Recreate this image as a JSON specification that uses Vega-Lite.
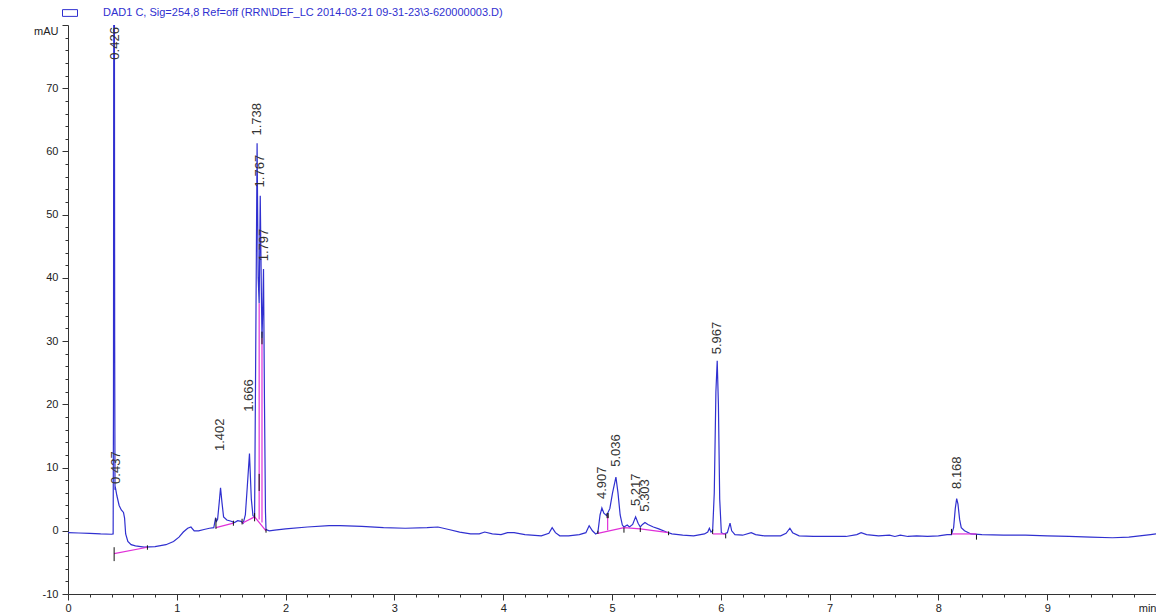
{
  "$schema": "https://vega.github.io/schema/vega-lite/v6.json",
  "width": 1088,
  "height": 569,
  "autosize": "none",
  "padding": {"left": 68, "top": 25, "right": 0, "bottom": 20},
  "background": "white",
  "config": {
    "view": {"stroke": null},
    "font": "Liberation Sans",
    "axis": {"labelFont": "Liberation Sans", "labelFontSize": 11, "labelColor": "#222", "domainColor": "#333", "tickColor": "#333", "grid": false, "title": null, "labelOverlap": false}
  },
  "datasets": {
    "trace": [
      {"t": 0.0, "v": -0.3}, {"t": 0.1, "v": -0.35}, {"t": 0.2, "v": -0.4}, {"t": 0.3, "v": -0.5}, {"t": 0.4, "v": -0.55},
      {"t": 0.415, "v": -0.5}, {"t": 0.418, "v": 20}, {"t": 0.421, "v": 95}, {"t": 0.426, "v": 95}, {"t": 0.429, "v": 30},
      {"t": 0.432, "v": 6.5}, {"t": 0.437, "v": 6.7}, {"t": 0.45, "v": 5.5}, {"t": 0.47, "v": 4}, {"t": 0.49, "v": 3.3},
      {"t": 0.51, "v": 2.9}, {"t": 0.52, "v": 2.0}, {"t": 0.53, "v": -0.5}, {"t": 0.55, "v": -1.7}, {"t": 0.58, "v": -2.2},
      {"t": 0.62, "v": -2.4}, {"t": 0.7, "v": -2.6}, {"t": 0.8, "v": -2.5}, {"t": 0.9, "v": -2.2}, {"t": 0.97, "v": -1.7},
      {"t": 1.02, "v": -1.0}, {"t": 1.06, "v": -0.2}, {"t": 1.1, "v": 0.4}, {"t": 1.13, "v": 0.6}, {"t": 1.16, "v": 0.0},
      {"t": 1.2, "v": 0.0}, {"t": 1.25, "v": 0.2}, {"t": 1.3, "v": 0.4}, {"t": 1.34, "v": 0.5}, {"t": 1.355, "v": 1.9},
      {"t": 1.365, "v": 1.5}, {"t": 1.375, "v": 1.8}, {"t": 1.39, "v": 4.5}, {"t": 1.402, "v": 6.8}, {"t": 1.415, "v": 4.5},
      {"t": 1.43, "v": 2.2}, {"t": 1.46, "v": 1.7}, {"t": 1.5, "v": 1.5}, {"t": 1.53, "v": 1.3}, {"t": 1.56, "v": 1.6},
      {"t": 1.59, "v": 1.5}, {"t": 1.61, "v": 1.2}, {"t": 1.63, "v": 2.5}, {"t": 1.648, "v": 7}, {"t": 1.668, "v": 12.2},
      {"t": 1.685, "v": 5}, {"t": 1.7, "v": 2.4}, {"t": 1.715, "v": 2.2}, {"t": 1.728, "v": 35}, {"t": 1.738, "v": 61.3},
      {"t": 1.748, "v": 40}, {"t": 1.757, "v": 36}, {"t": 1.767, "v": 53}, {"t": 1.777, "v": 38}, {"t": 1.783, "v": 30.5},
      {"t": 1.79, "v": 35}, {"t": 1.797, "v": 41.4}, {"t": 1.806, "v": 20}, {"t": 1.815, "v": 3}, {"t": 1.82, "v": 0.2},
      {"t": 1.85, "v": 0.0}, {"t": 1.9, "v": 0.1}, {"t": 2.0, "v": 0.3}, {"t": 2.2, "v": 0.6}, {"t": 2.4, "v": 0.8},
      {"t": 2.5, "v": 0.8}, {"t": 2.7, "v": 0.7}, {"t": 2.9, "v": 0.5}, {"t": 3.1, "v": 0.4}, {"t": 3.3, "v": 0.5},
      {"t": 3.4, "v": 0.6}, {"t": 3.5, "v": 0.2}, {"t": 3.6, "v": -0.2}, {"t": 3.7, "v": -0.5}, {"t": 3.78, "v": -0.5},
      {"t": 3.83, "v": -0.2}, {"t": 3.9, "v": -0.5}, {"t": 3.98, "v": -0.6}, {"t": 4.04, "v": -0.3}, {"t": 4.1, "v": -0.3},
      {"t": 4.2, "v": -0.6}, {"t": 4.35, "v": -0.8}, {"t": 4.42, "v": -0.4}, {"t": 4.45, "v": 0.5}, {"t": 4.48, "v": -0.3},
      {"t": 4.52, "v": -0.8}, {"t": 4.6, "v": -0.8}, {"t": 4.7, "v": -0.6}, {"t": 4.76, "v": -0.3}, {"t": 4.79, "v": 0.8},
      {"t": 4.82, "v": 0.0}, {"t": 4.85, "v": -0.5}, {"t": 4.87, "v": -0.3}, {"t": 4.89, "v": 2.5}, {"t": 4.907, "v": 3.6},
      {"t": 4.925, "v": 2.8}, {"t": 4.95, "v": 2.4}, {"t": 4.98, "v": 3.5}, {"t": 5.005, "v": 6}, {"t": 5.036, "v": 8.5},
      {"t": 5.055, "v": 6}, {"t": 5.075, "v": 2.5}, {"t": 5.095, "v": 0.9}, {"t": 5.11, "v": 0.6}, {"t": 5.14, "v": 0.9},
      {"t": 5.16, "v": 0.6}, {"t": 5.19, "v": 1.0}, {"t": 5.217, "v": 2.2}, {"t": 5.24, "v": 1.2}, {"t": 5.26, "v": 0.6},
      {"t": 5.28, "v": 1.0}, {"t": 5.303, "v": 1.3}, {"t": 5.33, "v": 1.0}, {"t": 5.38, "v": 0.6}, {"t": 5.43, "v": 0.3},
      {"t": 5.5, "v": -0.2}, {"t": 5.55, "v": -0.5}, {"t": 5.65, "v": -0.7}, {"t": 5.75, "v": -0.8}, {"t": 5.85, "v": -0.5},
      {"t": 5.88, "v": -0.2}, {"t": 5.895, "v": 0.4}, {"t": 5.91, "v": -0.2}, {"t": 5.925, "v": 0.0}, {"t": 5.94, "v": 6},
      {"t": 5.955, "v": 22}, {"t": 5.967, "v": 26.9}, {"t": 5.978, "v": 20}, {"t": 5.99, "v": 5}, {"t": 6.005, "v": -0.3},
      {"t": 6.03, "v": -0.5}, {"t": 6.06, "v": -0.3}, {"t": 6.085, "v": 1.2}, {"t": 6.1, "v": 0.0}, {"t": 6.13, "v": -0.6},
      {"t": 6.2, "v": -0.7}, {"t": 6.28, "v": -0.3}, {"t": 6.32, "v": -0.6}, {"t": 6.4, "v": -0.8}, {"t": 6.55, "v": -0.8},
      {"t": 6.6, "v": -0.4}, {"t": 6.635, "v": 0.4}, {"t": 6.66, "v": -0.3}, {"t": 6.72, "v": -0.8}, {"t": 6.85, "v": -0.9},
      {"t": 7.0, "v": -0.9}, {"t": 7.15, "v": -0.9}, {"t": 7.25, "v": -0.6}, {"t": 7.29, "v": -0.3}, {"t": 7.34, "v": -0.6},
      {"t": 7.45, "v": -0.8}, {"t": 7.55, "v": -0.7}, {"t": 7.6, "v": -0.9}, {"t": 7.65, "v": -0.7}, {"t": 7.72, "v": -0.9},
      {"t": 7.8, "v": -0.8}, {"t": 7.9, "v": -0.9}, {"t": 8.0, "v": -0.8}, {"t": 8.08, "v": -0.6}, {"t": 8.12, "v": -0.6},
      {"t": 8.14, "v": 0.5}, {"t": 8.155, "v": 3.5}, {"t": 8.168, "v": 5.1}, {"t": 8.18, "v": 4.2}, {"t": 8.195, "v": 1.8},
      {"t": 8.21, "v": 0.5}, {"t": 8.24, "v": 0.0}, {"t": 8.3, "v": -0.5}, {"t": 8.4, "v": -0.6}, {"t": 8.6, "v": -0.7},
      {"t": 8.8, "v": -0.7}, {"t": 9.0, "v": -0.8}, {"t": 9.2, "v": -0.9}, {"t": 9.4, "v": -1.0}, {"t": 9.6, "v": -1.1},
      {"t": 9.75, "v": -1.0}, {"t": 9.85, "v": -0.8}, {"t": 9.95, "v": -0.6}, {"t": 10.0, "v": -0.5}
    ],
    "base": [
      {"seg": "a", "t": 0.424, "v": -3.6}, {"seg": "a", "t": 0.73, "v": -2.6},
      {"seg": "b", "t": 1.36, "v": 0.5}, {"seg": "b", "t": 1.52, "v": 1.2},
      {"seg": "c", "t": 1.6, "v": 1.2}, {"seg": "c", "t": 1.715, "v": 2.2}, {"seg": "c", "t": 1.82, "v": 0.0},
      {"seg": "d", "t": 4.87, "v": -0.4}, {"seg": "d", "t": 5.11, "v": 0.5}, {"seg": "d", "t": 5.26, "v": 0.3}, {"seg": "d", "t": 5.52, "v": -0.3},
      {"seg": "e", "t": 5.925, "v": -0.5}, {"seg": "e", "t": 6.045, "v": -0.5},
      {"seg": "f", "t": 8.12, "v": -0.5}, {"seg": "f", "t": 8.35, "v": -0.5}
    ],
    "drops": [
      {"t": 1.757, "v": 1.8, "v2": 36},
      {"t": 1.783, "v": 1.3, "v2": 30.5},
      {"t": 4.96, "v": 0.1, "v2": 2.4}
    ],
    "marks": [
      {"t": 0.424, "v": -2.6, "v2": -4.8},
      {"t": 0.73, "v": -2.3, "v2": -3.0},
      {"t": 1.36, "v": 0.3, "v2": 2.0},
      {"t": 1.52, "v": 0.8, "v2": 1.6},
      {"t": 1.6, "v": 1.0, "v2": 1.9},
      {"t": 1.715, "v": 1.5, "v2": 2.8},
      {"t": 1.757, "v": 6.3, "v2": 9},
      {"t": 1.783, "v": 29.5, "v2": 31.5},
      {"t": 1.82, "v": -0.3, "v2": 0.3},
      {"t": 4.87, "v": -0.5, "v2": 0.0},
      {"t": 4.955, "v": 2.0, "v2": 2.8},
      {"t": 4.965, "v": 2.0, "v2": 2.8},
      {"t": 5.11, "v": -0.3, "v2": 0.5},
      {"t": 5.26, "v": -0.2, "v2": 0.5},
      {"t": 5.52, "v": -0.7, "v2": -0.1},
      {"t": 5.925, "v": -0.5, "v2": 0.2},
      {"t": 6.045, "v": -0.5, "v2": -1.2},
      {"t": 8.12, "v": -0.6, "v2": 0.3},
      {"t": 8.35, "v": -0.6, "v2": -1.4}
    ],
    "peaks": [
      {"t": 0.428, "v": 74.2, "label": "0.426"},
      {"t": 0.44, "v": 7.1, "label": "0.437"},
      {"t": 1.40, "v": 12.3, "label": "1.402"},
      {"t": 1.666, "v": 18.5, "label": "1.666"},
      {"t": 1.738, "v": 62.2, "label": "1.738"},
      {"t": 1.767, "v": 54, "label": "1.767"},
      {"t": 1.797, "v": 42.3, "label": "1.797"},
      {"t": 4.907, "v": 4.7, "label": "4.907"},
      {"t": 5.036, "v": 9.8, "label": "5.036"},
      {"t": 5.217, "v": 3.6, "label": "5.217"},
      {"t": 5.303, "v": 2.7, "label": "5.303"},
      {"t": 5.967, "v": 27.6, "label": "5.967"},
      {"t": 8.168, "v": 6.3, "label": "8.168"}
    ]
  },
  "resolve": {"scale": {"x": "independent", "y": "independent", "color": "independent"}, "axis": {"x": "independent", "y": "independent"}},
  "layer": [
    {
      "layer": [
        {
          "data": {"name": "trace"},
          "mark": {"type": "line", "clip": true, "strokeWidth": 1.2, "interpolate": "linear"},
          "encoding": {
            "x": {
              "field": "t", "type": "quantitative",
              "scale": {"domain": [0, 10], "nice": false, "zero": false},
              "axis": {
                "values": [0, 1, 2, 3, 4, 5, 6, 7, 8, 9, 10],
                "labelExpr": "datum.value == 10 ? 'min' : '' + datum.value",
                "labelAlign": {"condition": {"test": "datum.value == 10", "value": "right"}, "value": "center"},
                "tickSize": 6,
                "labelPadding": 2,
                "labelBound": false,
                "labelFlush": false,
                "labelOverlap": false
              }
            },
            "y": {
              "field": "v", "type": "quantitative",
              "scale": {"domain": [-10, 80], "nice": false, "zero": false},
              "axis": {
                "values": [-10, 0, 10, 20, 30, 40, 50, 60, 70, 80],
                "labelExpr": "datum.value == 80 ? 'mAU' : '' + datum.value",
                "labelBaseline": {"condition": {"test": "datum.value == 80", "value": "top"}, "value": "middle"},
                "tickSize": 6,
                "labelPadding": 4,
                "labelOverlap": false,
                "labelBound": false,
                "labelFlush": false
              }
            },
            "color": {
              "datum": "DAD1 C, Sig=254,8 Ref=off (RRN\\DEF_LC 2014-03-21 09-31-23\\3-620000003.D)",
              "scale": {"range": ["#3030d0"]},
              "legend": {
                "title": null,
                "orient": "none",
                "legendX": -6,
                "legendY": -20,
                "padding": 0,
                "symbolType": "M-1,-0.45H1V0.45H-1Z",
                "symbolSize": 225,
                "symbolFillColor": "transparent",
                "symbolStrokeColor": "#3030d0",
                "symbolStrokeWidth": 1,
                "labelColor": "#3030d0",
                "labelFont": "Liberation Sans",
                "labelFontSize": 11,
                "labelOffset": 25,
                "labelLimit": 800
              }
            }
          }
        },
        {
          "data": {"name": "base"},
          "mark": {"type": "line", "color": "#e030d8", "strokeWidth": 1.2, "clip": true},
          "encoding": {
            "x": {"field": "t", "type": "quantitative"},
            "y": {"field": "v", "type": "quantitative"},
            "detail": {"field": "seg"}
          }
        },
        {
          "data": {"name": "drops"},
          "mark": {"type": "rule", "color": "#e030d8", "strokeWidth": 1.2},
          "encoding": {
            "x": {"field": "t", "type": "quantitative"},
            "y": {"field": "v", "type": "quantitative"},
            "y2": {"field": "v2"}
          }
        },
        {
          "data": {"name": "marks"},
          "mark": {"type": "rule", "color": "#111", "strokeWidth": 1},
          "encoding": {
            "x": {"field": "t", "type": "quantitative"},
            "y": {"field": "v", "type": "quantitative"},
            "y2": {"field": "v2"}
          }
        },
        {
          "data": {"name": "peaks"},
          "mark": {"type": "text", "angle": 270, "align": "left", "baseline": "middle", "font": "Liberation Sans", "fontSize": 13, "color": "#333", "dx": 2},
          "encoding": {
            "x": {"field": "t", "type": "quantitative"},
            "y": {"field": "v", "type": "quantitative"},
            "text": {"field": "label"}
          }
        }
      ]
    },
    {
      "data": {"name": "peaks"},
      "mark": {"type": "point", "opacity": 0, "size": 1},
      "encoding": {
        "x": {
          "field": "t", "type": "quantitative",
          "scale": {"domain": [0, 10], "nice": false, "zero": false},
          "axis": {
            "orient": "bottom",
            "values": [0.2,0.4,0.6,0.8,1.2,1.4,1.6,1.8,2.2,2.4,2.6,2.8,3.2,3.4,3.6,3.8,4.2,4.4,4.6,4.8,5.2,5.4,5.6,5.8,6.2,6.4,6.6,6.8,7.2,7.4,7.6,7.8,8.2,8.4,8.6,8.8,9.2,9.4,9.6,9.8],
            "labels": false,
            "domain": false,
            "tickSize": 3
          }
        },
        "y": {
          "field": "v", "type": "quantitative",
          "scale": {"domain": [-10, 80], "nice": false, "zero": false},
          "axis": {
            "orient": "left",
            "values": [-8,-6,-4,-2,2,4,6,8,12,14,16,18,22,24,26,28,32,34,36,38,42,44,46,48,52,54,56,58,62,64,66,68,72,74,76,78],
            "labels": false,
            "domain": false,
            "tickSize": 3
          }
        }
      }
    }
  ]
}
